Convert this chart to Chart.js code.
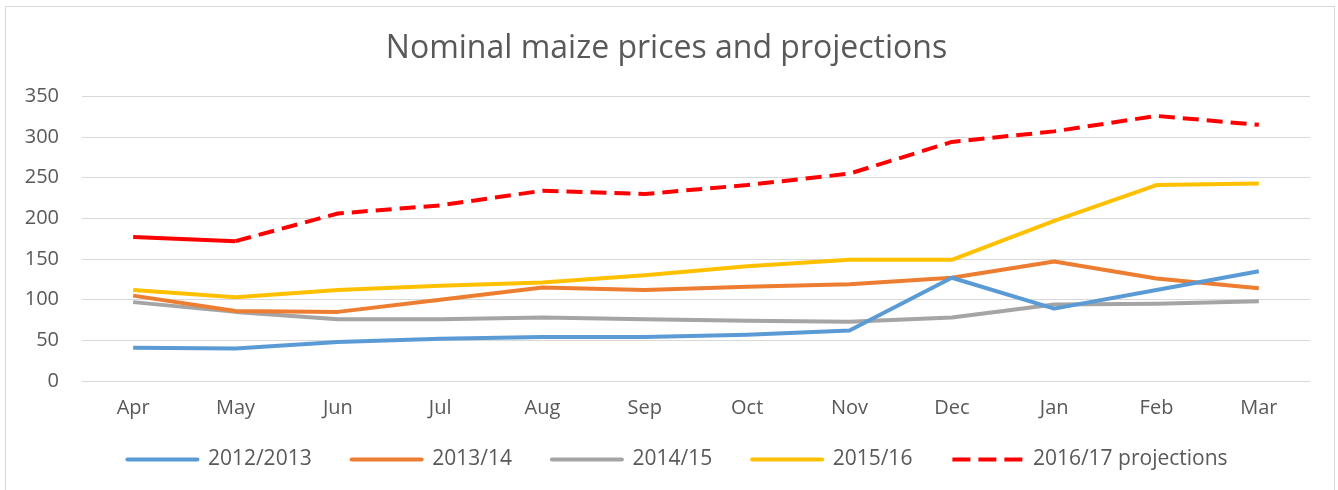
<!DOCTYPE html>
<html>
<head>
<meta charset="utf-8">
<script src="https://cdn.jsdelivr.net/npm/chart.js@4/dist/chart.umd.min.js"></script>
<style>
  html, body { margin: 0; padding: 0; background: #fff; overflow: hidden; }
  #wrap { position: absolute; left: 0; top: 0; width: 1338px; height: 490px; }
  #frame { position: absolute; left: 5px; top: 6px; width: 1330px; height: 500px; border: 1px solid #d9d9d9; box-sizing: border-box; }
  canvas { display: block; }
</style>
</head>
<body>
<div id="frame"></div>
<div id="wrap"><canvas id="maizeChart"></canvas></div>
<script>
const months = ['Apr', 'May', 'Jun', 'Jul', 'Aug', 'Sep', 'Oct', 'Nov', 'Dec', 'Jan', 'Feb', 'Mar'];
const seasons = ['2012/2013', '2013/14', '2014/15', '2015/16', '2016/17 projections'];
const prices2012 = [41, 40, 48, 52, 54, 54, 57, 62, 127, 89, 112, 135];
const prices2013 = [105, 86, 85, 100, 115, 112, 116, 119, 127, 147, 126, 114];
const prices2014 = [97, 85, 76, 76, 78, 76, 74, 73, 78, 94, 95, 98];
const prices2015 = [112, 103, 112, 117, 121, 130, 141, 149, 149, 197, 241, 243];
const projections2016 = [177, 172, 206, 216, 234, 230, 241, 255, 294, 307, 326, 315];
const yTicks = [0, 50, 100, 150, 200, 250, 300, 350];

const colors = ['#5B9BD5', '#ED7D31', '#A5A5A5', '#FFC000', '#FF0000'];
const allSeries = [prices2012, prices2013, prices2014, prices2015, projections2016];

const textColor = '#595959';
Chart.defaults.font.family = "'Open Sans', 'Liberation Sans', sans-serif";
Chart.defaults.color = textColor;

const datasets = allSeries.map((values, i) => {
    const ds = {
        label: seasons[i],
        data: values,
        borderColor: colors[i],
        backgroundColor: colors[i],
        borderWidth: 4,
        pointRadius: 0,
        tension: 0,
        borderJoinStyle: 'round'
    };
    if (i === 4) {
        ds.borderDash = [16, 8];
        // first month-to-month piece is actual data, solid
        ds.segment = {
            borderDash: ctx => ctx.p0DataIndex === 0 ? [] : [16, 8]
        };
    }
    return ds;
});

// pull the legend row up closer to the month labels, nudge it right a bit
const legendLift = {
    id: 'legendLift',
    afterLayout(chart) {
        const lg = chart.legend;
        if (!lg) return;
        const dy = lg.top - 409;
        lg.top -= dy;
        lg.bottom -= dy;
        lg.left += 11;
        lg.right += 11;
    }
};

const ctx = document.getElementById('maizeChart').getContext('2d');
const maizeChart = new Chart(ctx, {
    type: 'line',
    data: { labels: months, datasets: datasets },
    plugins: [legendLift],
    options: {
        responsive: true,
        maintainAspectRatio: false,
        animation: false,
        layout: { padding: { left: 23, right: 28, top: 6, bottom: -6 } },
        plugins: {
            title: {
                display: true,
                text: 'Nominal maize prices and projections',
                color: textColor,
                font: { size: 32, weight: 'normal' },
                padding: { top: 24, bottom: 28 }
            },
            legend: {
                position: 'bottom',
                labels: {
                    usePointStyle: true,
                    pointStyleWidth: 70,
                    boxHeight: 4,
                    padding: 40,
                    font: { size: 21 },
                    color: textColor,
                    generateLabels: chart => {
                        const items = Chart.defaults.plugins.legend.labels.generateLabels(chart);
                        items.forEach((item, i) => {
                            item.pointStyle = 'line';
                            item.lineWidth = 4;
                            item.strokeStyle = colors[i];
                            item.lineCap = i === 4 ? 'butt' : 'round';
                            item.lineDash = i === 4 ? [18, 8] : [];
                        });
                        return items;
                    }
                }
            },
            tooltip: { enabled: false }
        },
        scales: {
            x: {
                offset: true,
                grid: { display: false },
                border: { display: false },
                ticks: { font: { size: 20 }, color: textColor, padding: 7 },
                afterFit: axis => { axis.height = 44; }
            },
            y: {
                min: 0,
                max: 350,
                afterBuildTicks: axis => { axis.ticks = yTicks.map(v => ({ value: v })); },
                afterFit: axis => { axis.width = 59; },
                grid: { color: '#d9d9d9', lineWidth: 1, drawTicks: false },
                border: { display: false },
                ticks: { font: { size: 20 }, color: textColor, padding: 23 }
            }
        }
    }
});
</script>
</body>
</html>
